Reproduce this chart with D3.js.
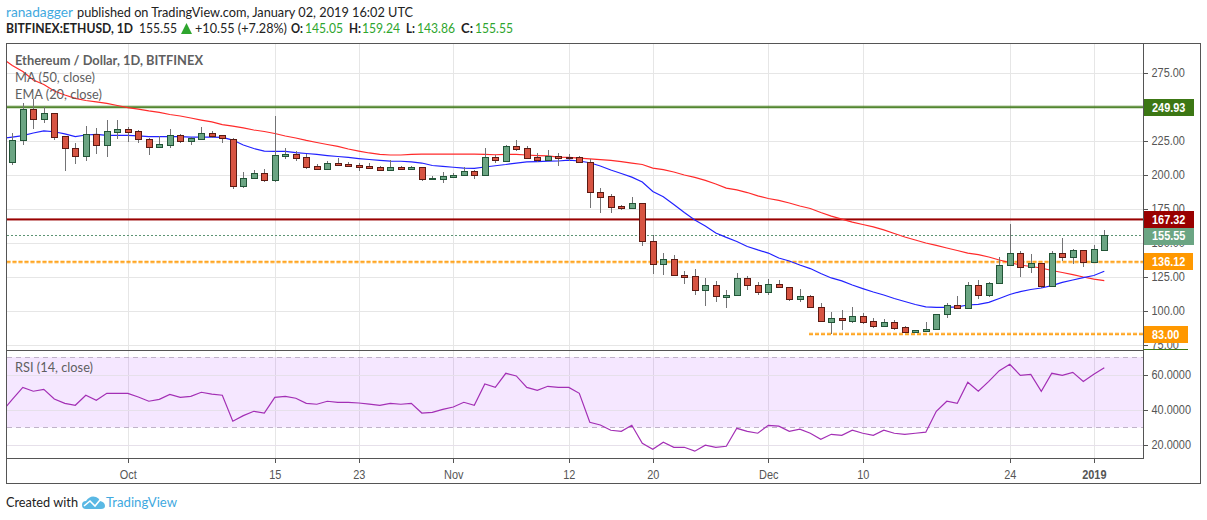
<!DOCTYPE html>
<html>
<head>
<meta charset="utf-8">
<script src="https://cdn.jsdelivr.net/npm/d3@7"></script>
<style>
  html, body { margin: 0; padding: 0; background: #fff; }
  text { font-family: Lato, "Open Sans", sans-serif; }
  .num { font-family: "Liberation Sans", Arial, sans-serif; }
</style>
</head>
<body>
<svg id="chart" width="1207" height="520"></svg>
<script>
// daily candles, first one is 2018-09-20
const opens = [209.9,225.4,248.2,241.4,245.4,228.7,219.6,214.2,229.9,222.3,231.9,233.6,232.1,226.2,220.8,222.3,229.2,225.2,226.7,230.7,229.2,226.7,191.7,197.6,201.2,196.5,214.2,215.2,213.0,206.4,204.6,208.8,207.9,207.4,206.6,205.7,203.9,205.7,204.4,205.7,197.3,197.3,198.8,200.2,202.7,200.2,213.0,210.5,221.1,219.6,213.0,211.3,213.8,213.5,213.0,209.8,187.3,184.3,177.0,176.0,179.2,151.2,134.3,138.0,126.5,125.5,115.2,118.9,110.5,111.5,124.0,118.9,113.8,119.6,117.4,109.0,110.8,102.7,92.1,94.6,92.9,96.1,92.4,89.2,91.7,88.0,84.8,85.5,86.5,97.6,104.2,102.4,118.9,111.5,120.4,133.6,142.4,132.6,135.1,118.6,142.4,139.9,144.6,136.3,145.05];
const highs = [230.9,253.2,255.9,250.2,245.6,228.7,223.3,236.0,234.6,240.4,240.4,235.5,233.1,227.2,228.7,233.6,230.2,228.2,235.5,232.4,229.6,227.2,202.0,203.7,204.4,243.4,219.6,217.4,215.4,208.1,210.1,212.5,209.6,209.0,208.6,206.6,210.8,206.6,206.6,205.7,199.5,202.2,201.2,206.1,203.5,219.9,214.7,222.1,225.7,221.3,216.2,218.4,216.0,215.4,214.0,211.5,190.4,186.0,177.9,183.6,179.2,155.7,142.4,140.9,129.4,130.7,124.0,121.8,115.2,127.7,125.7,121.3,123.3,122.8,117.4,116.2,111.8,105.7,99.3,100.7,102.7,98.3,94.6,93.9,93.2,88.7,86.0,91.9,97.6,105.9,111.0,121.3,122.8,121.3,139.7,164.0,144.1,141.7,135.1,144.1,153.7,145.4,144.6,148.3,159.24];
const lows = [207.4,222.1,234.0,238.0,225.7,203.2,208.1,210.5,215.4,213.5,226.2,224.3,223.7,214.7,219.9,219.9,223.7,221.9,225.7,227.4,223.7,189.5,190.2,197.6,194.8,195.1,212.0,210.5,204.6,204.6,204.6,206.8,206.1,203.2,205.1,203.9,203.9,204.2,204.4,195.8,196.3,193.9,198.5,200.2,197.3,199.5,208.6,209.8,217.9,212.5,209.6,211.0,206.8,210.5,209.6,175.7,172.0,172.0,174.3,176.0,148.0,127.2,126.7,126.3,120.1,112.0,103.9,106.8,102.4,111.5,115.7,112.0,112.0,117.4,107.3,106.8,102.7,92.1,83.1,86.2,91.4,90.4,87.7,88.5,86.2,84.0,84.0,85.5,86.5,95.1,102.4,101.7,109.0,110.1,120.4,133.6,125.0,127.9,117.1,118.4,136.8,134.6,132.6,135.5,143.86];
const closes = [225.7,248.2,241.5,245.4,228.2,219.6,214.2,229.9,222.3,232.4,233.6,231.9,226.2,220.8,222.6,229.2,225.2,227.2,230.7,228.9,227.2,191.7,197.6,201.2,196.3,214.5,215.2,212.7,206.1,204.6,208.6,207.6,206.6,206.1,205.1,203.9,205.7,204.4,205.7,197.3,197.8,199.3,200.0,202.7,200.2,213.0,211.3,221.1,219.3,212.7,211.3,214.0,212.7,212.7,209.8,187.3,184.0,176.7,176.0,179.2,151.2,134.3,138.0,126.3,125.2,115.2,118.9,110.8,111.8,124.0,118.9,113.8,119.6,117.4,109.0,110.8,102.7,92.4,94.6,93.2,96.1,92.1,89.2,91.7,87.7,84.8,85.8,86.5,97.6,104.2,102.4,118.9,111.5,120.4,133.6,142.4,132.6,135.1,118.6,142.4,139.9,144.6,136.3,145.4,155.55];

// moving averages and rsi start one day earlier, on 2018-09-19
const ma50 = [286.0,280.5,276.1,269.9,266.5,261.8,258.8,256.3,254.8,253.7,252.6,251.1,249.6,248.5,247.1,246.0,244.5,243.4,241.9,240.4,239.0,237.1,236.0,234.6,233.1,232.0,230.5,228.7,227.2,225.4,223.9,222.4,221.0,219.1,217.6,216.2,215.1,214.7,214.7,215.2,215.4,215.4,215.4,215.4,215.4,215.4,215.2,214.9,215.2,215.1,214.7,214.3,214.0,213.2,212.9,212.4,211.8,211.3,210.7,209.9,208.8,207.7,205.1,204.0,202.2,200.0,198.2,196.0,193.4,190.4,189.0,187.1,184.6,182.7,181.3,179.4,177.2,175.4,172.4,169.8,167.6,165.4,163.6,161.8,159.6,157.0,154.4,152.2,150.0,148.2,146.3,144.5,142.6,141.5,139.7,137.5,135.6,133.8,132.7,131.6,129.8,128.3,126.8,125.0,123.5,122.4];
const ema20 = [226.8,227.9,229.0,230.9,232.4,231.8,230.2,228.2,229.4,229.8,229.2,229.2,229.2,228.7,228.2,228.2,228.2,228.2,227.9,227.9,227.8,227.7,225.7,222.1,219.5,217.5,217.4,217.4,216.5,215.8,215.1,214.3,213.6,212.9,212.1,211.4,210.8,210.2,210.1,209.6,208.8,207.0,206.3,205.7,205.1,204.9,205.9,206.8,207.7,208.8,209.6,209.9,210.2,210.3,211.0,210.3,209.0,206.6,203.7,201.1,198.4,194.9,187.9,184.0,178.3,172.4,166.9,162.5,157.4,154.1,151.1,147.4,144.9,142.6,139.0,136.8,133.8,131.2,127.6,124.3,122.1,119.1,116.5,114.0,111.8,109.2,107.0,104.8,103.1,102.7,102.7,103.0,104.4,104.9,106.3,109.2,112.1,114.3,115.8,116.9,118.7,121.0,122.8,124.6,126.1,129.2];
const rsi14 = [38.8,46.0,52.8,50.6,51.7,46.2,43.7,42.6,48.3,45.4,49.4,49.4,49.4,47.3,44.9,46.0,48.8,47.1,47.7,50.0,49.0,48.3,33.5,36.7,39.2,38.2,47.1,47.7,46.6,43.7,43.2,44.9,44.3,44.3,43.9,43.3,42.6,43.7,43.2,43.7,38.2,38.6,40.3,41.6,44.3,42.6,54.7,52.8,60.8,59.3,52.8,51.1,53.4,52.8,52.8,49.4,32.9,31.4,28.4,27.8,31.2,21.0,17.6,21.6,18.7,18.7,16.5,19.9,18.7,19.3,29.5,27.8,26.7,31.2,30.7,27.8,29.0,26.7,23.3,26.1,25.5,28.4,26.7,25.5,28.4,26.7,26.1,26.7,27.3,39.2,44.9,43.7,55.7,50.6,56.2,62.3,65.9,59.6,60.2,50.6,60.8,59.6,61.3,56.2,60.2,64.0];

const priceTicks = [75, 100, 125, 150, 175, 200, 225, 250, 275];
const rsiTicks = [20, 40, 60];
const rsiBand = [30, 70];
const timeTickDates = ["2018-10-01","2018-10-15","2018-10-23","2018-11-01","2018-11-12","2018-11-20","2018-12-01","2018-12-10","2018-12-24","2019-01-01"];
const timeTickLabels = ["Oct","15","23","Nov","12","20","Dec","10","24","2019"];

const DAY = 86400000;
const firstDay = Date.UTC(2018, 8, 20);

// pane geometry
const frame = { left: 6.5, top: 43.5, right: 1200.5, bottom: 483.5 };
const axisX = 1143.5, paneSplit = 350.5, timeY = 458.5;

const svg = d3.select("#chart");

const x = d3.scaleUtc()
  .domain([new Date(firstDay), new Date(firstDay + 104 * DAY)])
  .range([12.3, 1104.3]);
const y = d3.scaleLinear().domain([75, 275]).range([345, 73]);
const yRsi = d3.scaleLinear().domain([20, 60]).range([445, 374.7]);

// date of the i-th point of the series that start a day before the candles
const lineDate = (i) => new Date(firstDay + (i - 1) * DAY);
const candleDate = (i) => new Date(firstDay + i * DAY);
const snap = (v) => Math.round(v) + 0.5;

// the screenshot's fonts run narrower than anything installed
function squeeze(sel, factor) {
  sel.each(function () {
    this.setAttribute("textLength", this.getComputedTextLength() * factor);
    this.setAttribute("lengthAdjust", "spacingAndGlyphs");
  });
}

const defs = svg.append("defs");
defs.append("clipPath").attr("id", "clipPrice").append("rect")
  .attr("x", frame.left).attr("y", frame.top).attr("width", axisX - frame.left).attr("height", paneSplit - frame.top);
defs.append("clipPath").attr("id", "clipRsi").append("rect")
  .attr("x", frame.left).attr("y", paneSplit).attr("width", axisX - frame.left).attr("height", timeY - paneSplit);

const pricePane = svg.append("g").attr("clip-path", "url(#clipPrice)");
const rsiPane = svg.append("g").attr("clip-path", "url(#clipRsi)");

// grid
const tickDates = timeTickDates.map((d) => new Date(d + "T00:00:00Z"));
[pricePane, rsiPane].forEach((pane) => {
  pane.append("g").selectAll("line").data(tickDates).enter().append("line")
    .attr("x1", (d) => snap(x(d))).attr("x2", (d) => snap(x(d)))
    .attr("y1", frame.top).attr("y2", timeY)
    .attr("stroke", "#e6e6e6").attr("shape-rendering", "crispEdges");
});
pricePane.append("g").selectAll("line").data(priceTicks).enter().append("line")
  .attr("x1", frame.left).attr("x2", axisX)
  .attr("y1", (d) => snap(y(d))).attr("y2", (d) => snap(y(d)))
  .attr("stroke", "#e6e6e6").attr("shape-rendering", "crispEdges");

// horizontal levels
function level(value, color, x1, dash) {
  const yy = y(value);
  [[3, 0.45], [1.2, 1]].forEach(([w, op]) => {
    pricePane.append("line")
      .attr("x1", x1).attr("x2", axisX).attr("y1", yy).attr("y2", yy)
      .attr("stroke", color).attr("stroke-width", w).attr("stroke-opacity", op)
      .attr("stroke-dasharray", dash);
  });
}
level(249.93, "#3c7714", frame.left, null);
level(167.32, "#990000", frame.left, null);
level(136.12, "#ff9800", frame.left, "4 2");
level(83, "#ff9800", 809, "4 2");

pricePane.append("line")
  .attr("x1", frame.left).attr("x2", axisX)
  .attr("y1", snap(y(closes[closes.length - 1]))).attr("y2", snap(y(closes[closes.length - 1])))
  .attr("stroke", "#5d9474").attr("stroke-dasharray", "2 2").attr("shape-rendering", "crispEdges");

// moving averages
const priceLine = d3.line().x((d, i) => x(lineDate(i))).y((d) => y(d));
pricePane.append("path").datum(ma50).attr("d", priceLine)
  .attr("fill", "none").attr("stroke", "#ff2a2a").attr("stroke-width", 1.2);
pricePane.append("path").datum(ema20).attr("d", priceLine)
  .attr("fill", "none").attr("stroke", "#2222ff").attr("stroke-width", 1.2);

// candles
const candles = pricePane.append("g").selectAll("g").data(closes).enter().append("g")
  .attr("shape-rendering", "crispEdges");
candles.append("line")
  .attr("x1", (d, i) => snap(x(candleDate(i)))).attr("x2", (d, i) => snap(x(candleDate(i))))
  .attr("y1", (d, i) => Math.round(y(highs[i]))).attr("y2", (d, i) => Math.round(y(lows[i])))
  .attr("stroke", "#737375");
candles.append("rect")
  .attr("x", (d, i) => snap(x(candleDate(i))) - 3)
  .attr("width", 6)
  .attr("y", (d, i) => snap(y(Math.max(opens[i], closes[i]))))
  .attr("height", (d, i) => Math.max(1, Math.round(y(Math.min(opens[i], closes[i]))) - Math.round(y(Math.max(opens[i], closes[i])))))
  .attr("fill", (d, i) => (d >= opens[i] ? "#6ba583" : "#d75442"))
  .attr("stroke", (d, i) => (d >= opens[i] ? "#225437" : "#5b1a13"));

// rsi pane
rsiPane.append("rect")
  .attr("x", frame.left).attr("width", axisX - frame.left)
  .attr("y", yRsi(rsiBand[1])).attr("height", yRsi(rsiBand[0]) - yRsi(rsiBand[1]))
  .attr("fill", "#9915ff").attr("fill-opacity", 0.1);
rsiPane.append("g").selectAll("line").data(rsiTicks).enter().append("line")
  .attr("x1", frame.left).attr("x2", axisX)
  .attr("y1", (d) => snap(yRsi(d))).attr("y2", (d) => snap(yRsi(d)))
  .attr("stroke", "#e6e0ea").attr("shape-rendering", "crispEdges");
rsiPane.append("g").selectAll("line").data(rsiBand).enter().append("line")
  .attr("x1", frame.left).attr("x2", axisX)
  .attr("y1", (d) => snap(yRsi(d))).attr("y2", (d) => snap(yRsi(d)))
  .attr("stroke", "#c0b3c9").attr("stroke-dasharray", "5 4").attr("shape-rendering", "crispEdges");
rsiPane.append("path").datum(rsi14)
  .attr("d", d3.line().x((d, i) => x(lineDate(i))).y((d) => yRsi(d)))
  .attr("fill", "none").attr("stroke", "#a32fb5").attr("stroke-width", 1.2);

// frame
const border = "#555555";
svg.append("rect")
  .attr("x", frame.left).attr("y", frame.top)
  .attr("width", frame.right - frame.left).attr("height", frame.bottom - frame.top)
  .attr("fill", "none").attr("stroke", border).attr("shape-rendering", "crispEdges");
[[frame.left, axisX, paneSplit, paneSplit], [frame.left, axisX, timeY, timeY], [axisX, axisX, frame.top, timeY]].forEach((l) => {
  svg.append("line")
    .attr("x1", l[0]).attr("x2", l[1]).attr("y1", l[2]).attr("y2", l[3])
    .attr("stroke", border).attr("shape-rendering", "crispEdges");
});

// axes
function styleAxis(g) {
  g.select(".domain").remove();
  g.selectAll("line").attr("stroke", border).attr("shape-rendering", "crispEdges");
  g.selectAll("text").attr("class", "num").attr("fill", "#555555").style("font-size", "12px").call(squeeze, 0.91);
}
// 250 has no label of its own, the 249.93 box sits there
svg.append("g").attr("transform", "translate(" + axisX + ",0)")
  .call(d3.axisRight(y).tickValues(priceTicks.filter((d) => d !== 250)).tickSize(4).tickPadding(4).tickFormat(d3.format(".2f")))
  .call(styleAxis);
svg.append("g").attr("transform", "translate(" + axisX + ",0)")
  .call(d3.axisRight(yRsi).tickValues(rsiTicks).tickSize(4).tickPadding(4).tickFormat(d3.format(".4f")))
  .call(styleAxis);
svg.append("g").attr("transform", "translate(0," + timeY + ")")
  .call(d3.axisBottom(x).tickValues(tickDates).tickSize(4).tickPadding(8).tickFormat((d, i) => timeTickLabels[i]))
  .call(styleAxis)
  .selectAll("text").filter((d, i) => i === 9).attr("font-weight", "bold");

// price labels on the axis, the two close ones stack
const priceLabels = [
  { value: 249.93, text: "249.93", color: "#3c7714", w: 50.5, h: 17 },
  { value: 136.12, text: "136.12", color: "#ff9800", w: 49.5, h: 17 },
  { value: 83, text: "83.00", color: "#ff9800", w: 44.5, h: 17 },
  { value: 155.55, text: "155.55", color: "#6ba583", w: 50.5, h: 18 },
  { value: 167.32, text: "167.32", color: "#990000", w: 50.5, h: 17 },
];
priceLabels.forEach((l) => {
  const yy = y(l.value);
  svg.append("rect").attr("x", axisX).attr("y", Math.floor(yy) - 8).attr("width", l.w).attr("height", l.h)
    .attr("fill", l.color).attr("shape-rendering", "crispEdges");
  svg.append("text").attr("class", "num").attr("x", axisX + 8.5).attr("y", Math.floor(yy) + 0.5).attr("dy", "0.35em")
    .attr("fill", "#fff").attr("font-size", 12).attr("font-weight", "bold").text(l.text)
    .call(squeeze, 0.91);
});
svg.append("rect").attr("x", axisX).attr("y", 349).attr("width", 44.5).attr("height", 1).attr("fill", "#3c7714");

// pane legends, last column is the width measured on the picture
const legendText = [["Ethereum / Dollar, 1D, BITFINEX", 65, 700, 188], ["MA (50, close)", 82, 400, 80], ["EMA (20, close)", 99, 400, 87], ["RSI (14, close)", 372, 400, 78]];
legendText.forEach((t) => {
  svg.append("text").attr("x", 15).attr("y", t[1]).attr("fill", "#5f5f5f")
    .attr("font-size", 13.5).attr("font-weight", t[2])
    .attr("textLength", t[3]).attr("lengthAdjust", "spacingAndGlyphs").text(t[0]);
});

// header
const ink = "#222222", upGreen = "#2ea52e";
const header = [
  ["ranadagger", 6, 17, "#3fa9e0", 400, 67],
  ["published on TradingView.com, January 02, 2019 16:02 UTC", 77, 17, ink, 400, 336],
  ["BITFINEX:ETHUSD, 1D", 6, 33, ink, 700, 127],
  ["155.55", 139, 33, ink, 400, 38],
  ["+10.55 (+7.28%)", 195, 33, ink, 400, 92],
  ["O:", 291, 33, ink, 700, 12],
  ["145.05", 305, 33, upGreen, 400, 38],
  ["H:", 349, 33, ink, 700, 12],
  ["159.24", 362, 33, upGreen, 400, 38],
  ["L:", 406, 33, ink, 700, 9],
  ["143.86", 417, 33, upGreen, 400, 38],
  ["C:", 461, 33, ink, 700, 12],
  ["155.55", 475, 33, upGreen, 400, 38],
];
header.forEach((t) => {
  svg.append("text").attr("x", t[1]).attr("y", t[2]).attr("fill", t[3])
    .attr("font-size", 13.5).attr("font-weight", t[4])
    .attr("textLength", t[5]).attr("lengthAdjust", "spacingAndGlyphs").text(t[0]);
});
svg.append("path").attr("d", "M181 34L186.5 23L192 34Z").attr("fill", upGreen);

// footer
svg.append("text").attr("x", 6).attr("y", 507).attr("fill", ink).attr("font-size", 13.5)
  .attr("textLength", 72).attr("lengthAdjust", "spacingAndGlyphs").text("Created with");
svg.append("text").attr("x", 106).attr("y", 507).attr("fill", "#3fa9e0").attr("font-size", 13.5)
  .attr("textLength", 71).attr("lengthAdjust", "spacingAndGlyphs").text("TradingView");
svg.append("path")
  .attr("d", "M82 505Q82 501 86 501Q90 495 96 497Q99 498 100 501Q105 502 105 506Q105 509 101 509L86 509Q82 509 82 505Z")
  .attr("fill", "#5ab8e4");
svg.append("path")
  .attr("d", "M84 506L90 501L95 506L100 500")
  .attr("fill", "none").attr("stroke", "#fff").attr("stroke-width", 1.6);
</script>
</body>
</html>
